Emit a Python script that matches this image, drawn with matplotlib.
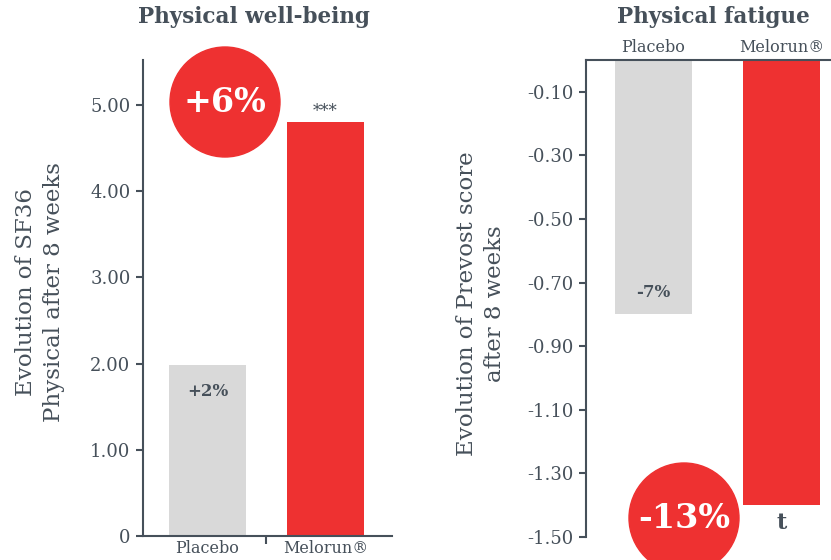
import matplotlib
matplotlib.use("Agg")
import matplotlib.pyplot as plt
from matplotlib.patches import Ellipse

plt.rcParams['font.family'] = ['DejaVu Serif']

categories = ["Placebo", "Melorun®"]
wellbeing_values = [1.98, 4.80]
wellbeing_labels = ["+2%", "***"]
wellbeing_yticks = [0, 1, 2, 3, 4, 5]
wellbeing_yticklabels = ["0", "1.00", "2.00", "3.00", "4.00", "5.00"]
fatigue_values = [-0.80, -1.40]
fatigue_labels = ["-7%", "t"]
fatigue_yticks = [-0.10, -0.30, -0.50, -0.70, -0.90, -1.10, -1.30, -1.50]
fatigue_yticklabels = ["-0.10", "-0.30", "-0.50", "-0.70", "-0.90", "-1.10", "-1.30", "-1.50"]

RED = "#EE3131"
GREY = "#D9D9D9"
TXT = "#46505A"

W, H = 831, 560
fig = plt.figure(figsize=(W / 100, H / 100), dpi=100)

# ---- Left panel
ax1 = fig.add_axes([143 / W, 24 / H, 249 / W, 476 / H])
x = list(range(len(categories)))
ax1.bar(x, wellbeing_values, width=0.65, color=[GREY, RED])
ax1.set_xlim(-0.547, 1.564)
ax1.set_ylim(0, 5.52)
ax1.set_yticks(wellbeing_yticks)
ax1.set_yticklabels(wellbeing_yticklabels)
ax1.set_xticks(x)
ax1.set_xticklabels(categories)
ax1.tick_params(axis='x', length=0, pad=3, labelsize=11.5, colors=TXT)
ax1.set_xticks([0.5], minor=True)
ax1.tick_params(axis='x', which='minor', length=6, width=1.5, color=TXT)
ax1.tick_params(axis='y', length=5, width=1.5, color=TXT, labelsize=13, labelcolor=TXT, pad=4)
for s in ['top', 'right']:
    ax1.spines[s].set_visible(False)
for s in ['left', 'bottom']:
    ax1.spines[s].set_color(TXT)
    ax1.spines[s].set_linewidth(1.5)
ax1.text(0, wellbeing_values[0] - 0.3, wellbeing_labels[0], ha='center', va='center',
         fontsize=12, fontweight='bold', color=TXT)
ax1.text(1, wellbeing_values[1] + 0.02, wellbeing_labels[1], ha='center', va='bottom',
         fontsize=12, color=TXT)

# ---- Right panel
ax2 = fig.add_axes([586 / W, 23 / H, 245 / W, 477 / H])
ax2.bar(x, fatigue_values, width=0.6, color=[GREY, RED])
ax2.set_xlim(-0.527, 1.387)
ax2.set_ylim(-1.50, 0)
ax2.set_yticks(fatigue_yticks)
ax2.set_yticklabels(fatigue_yticklabels)
ax2.xaxis.tick_top()
ax2.set_xticks(x)
ax2.set_xticklabels(categories)
ax2.tick_params(axis='x', length=0, pad=3, labelsize=11.5, colors=TXT)
ax2.tick_params(axis='y', length=5, width=1.5, color=TXT, labelsize=13, labelcolor=TXT, pad=4)
for s in ['bottom', 'right']:
    ax2.spines[s].set_visible(False)
for s in ['left', 'top']:
    ax2.spines[s].set_color(TXT)
    ax2.spines[s].set_linewidth(1.5)
ax2.text(0, fatigue_values[0] + 0.07, fatigue_labels[0], ha='center', va='center',
         fontsize=12, fontweight='bold', color=TXT)
ax2.text(1, fatigue_values[1] - 0.02, fatigue_labels[1], ha='center', va='top',
         fontsize=16, fontweight='bold', color=TXT)

# ---- Titles and axis labels
fig.text(254 / W, 1 - 17 / H, "Physical well-being", ha='center', va='center',
         fontsize=15.5, fontweight='bold', color=TXT)
fig.text(713 / W, 1 - 17 / H, "Physical fatigue", ha='center', va='center',
         fontsize=15.5, fontweight='bold', color=TXT)
fig.text(40 / W, 1 - 292 / H, "Evolution of SF36\nPhysical after 8 weeks", rotation=90,
         ha='center', va='center', multialignment='center', fontsize=16.5,
         linespacing=1.35, color=TXT)
fig.text(481 / W, 1 - 304 / H, "Evolution of Prevost score\nafter 8 weeks", rotation=90,
         ha='center', va='center', multialignment='center', fontsize=16.5,
         linespacing=1.35, color=TXT)

# ---- Badges
def badge(cx, cy, r, label, size):
    e = Ellipse((cx / W, 1 - cy / H), 2 * r / W, 2 * r / H, transform=fig.transFigure,
                color=RED, zorder=5, clip_on=False)
    fig.add_artist(e)
    fig.text(cx / W, 1 - cy / H, label, ha='center', va='center', fontsize=size,
             fontweight='bold', color='white', zorder=6)

badge(225, 102, 55, "+6%", 24)
badge(684, 518, 55, "-13%", 24)

fig.savefig("out.png", dpi=100)
